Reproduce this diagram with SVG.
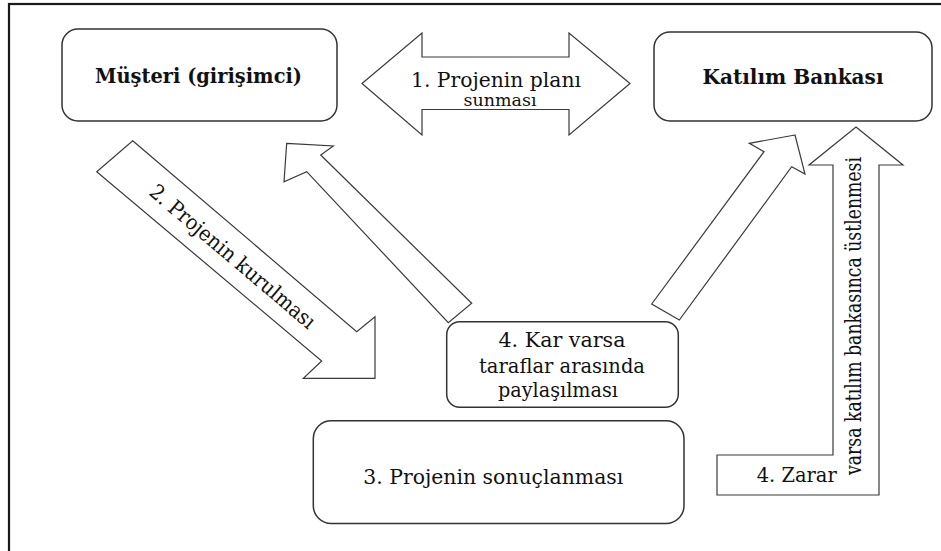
<svg xmlns="http://www.w3.org/2000/svg" width="941" height="551" viewBox="0 0 941 551">
  <style>
    .frame { fill: none; stroke: #1a1a1a; stroke-width: 2.2; }
    .node rect { fill: #fff; stroke: #333; stroke-width: 1.5; }
    .arrow { fill: #fff; stroke: #3a3a3a; stroke-width: 1.2; stroke-linejoin: miter; }
    .lbl { font-family: 'DejaVu Serif', serif; font-size: 20px; fill: #111; text-anchor: middle; }
    .bold { font-weight: bold; }
  </style>

  <rect width="941" height="551" fill="#fff"/>
  <!-- page frame (runs off the right and bottom edges) -->
  <rect class="frame" x="9" y="4" width="940" height="560"/>

  <!-- connectors: block arrows -->
  <g id="connectors">
    <!-- 1: double arrow between customer and bank -->
    <polygon id="arrow-plan" class="arrow" points="362,83.5 422,33 422,57 569,57 569,33 630,83.5 569,135 569,109.5 422,109.5 422,135"/>
    <!-- 2: customer to project outcome -->
    <polygon id="arrow-kurulma" class="arrow" points="132.7,140.7 356.7,331.7 375,316.7 375,378.3 303.3,378.3 321.7,361 96.7,171.7"/>
    <!-- 4: profit share back to customer -->
    <polygon id="arrow-kar-musteri" class="arrow" points="286.7,143.3 333.3,146 320.7,155 471.7,303.3 448.3,322.7 306.7,171.7 284,181.7"/>
    <!-- 4: profit share to bank -->
    <polygon id="arrow-kar-banka" class="arrow" points="795,135 749.3,143.3 764,151.7 651.7,304 679.3,320 791.7,166.7 805,174"/>
    <!-- 4: loss carried by bank (L-shaped arrow) -->
    <polygon id="arrow-zarar" class="arrow" points="856,127 903,165 879,165 879,495 717,495 717,455 833,455 833,165 809,165"/>
  </g>

  <!-- connector labels -->
  <text class="lbl" x="496" y="86.7" textLength="170" lengthAdjust="spacingAndGlyphs">1. Projenin planı</text>
  <text class="lbl" x="500" y="106" textLength="73" lengthAdjust="spacingAndGlyphs" style="font-size:17px">sunması</text>
  <text class="lbl" transform="translate(228,262) rotate(40.3)" style="font-size:21px" textLength="210" lengthAdjust="spacingAndGlyphs">2. Projenin kurulması</text>
  <text class="lbl" x="796.7" y="481.7" textLength="80" lengthAdjust="spacingAndGlyphs">4. Zarar</text>
  <text class="lbl" transform="translate(861,316) rotate(-90)" style="font-size:22px" textLength="318" lengthAdjust="spacingAndGlyphs">varsa katılım bankasınca üstlenmesi</text>

  <g id="node-musteri" class="node">
    <rect x="62" y="29" width="275" height="92" rx="16" ry="16"/>
    <text class="lbl bold" x="198.5" y="83" textLength="207" lengthAdjust="spacingAndGlyphs">Müşteri (girişimci)</text>
  </g>

  <g id="node-banka" class="node">
    <rect x="654" y="32" width="278" height="89" rx="16" ry="16"/>
    <text class="lbl bold" x="793" y="84" textLength="181" lengthAdjust="spacingAndGlyphs">Katılım Bankası</text>
  </g>

  <g id="node-kar" class="node">
    <rect x="446.7" y="321.7" width="231.6" height="85.6" rx="13" ry="13"/>
    <text class="lbl" x="562" y="346.7" textLength="127" lengthAdjust="spacingAndGlyphs">4. Kar varsa</text>
    <text class="lbl" x="562" y="372.7" textLength="166" lengthAdjust="spacingAndGlyphs">taraflar arasında</text>
    <text class="lbl" x="558" y="396.7" textLength="120" lengthAdjust="spacingAndGlyphs">paylaşılması</text>
  </g>

  <g id="node-sonuc" class="node">
    <rect x="313.3" y="420.7" width="370.7" height="102.8" rx="18" ry="18"/>
    <text class="lbl" x="493.3" y="484" textLength="260" lengthAdjust="spacingAndGlyphs">3. Projenin sonuçlanması</text>
  </g>
</svg>
